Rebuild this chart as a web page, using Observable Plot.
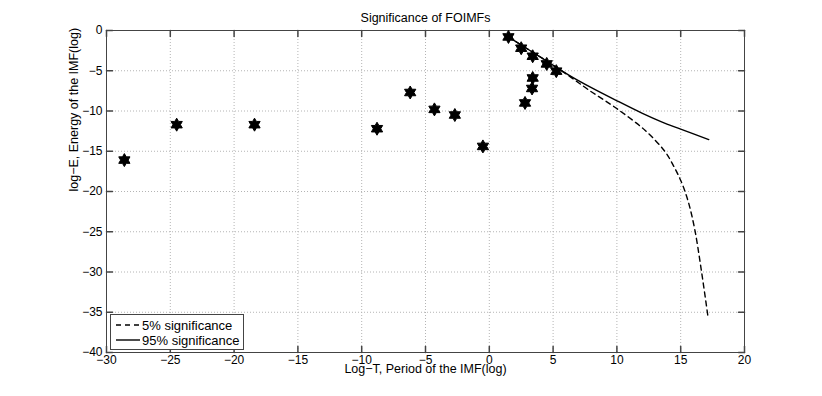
<!DOCTYPE html>
<html>
<head>
<meta charset="utf-8">
<script src="https://cdn.jsdelivr.net/npm/d3@7"></script>
<script src="https://cdn.jsdelivr.net/npm/@observablehq/plot@0.6"></script>
<style>
  html, body { margin: 0; padding: 0; background: #fff; }
  #wrap { position: relative; width: 822px; height: 396px; font-family: "Liberation Sans", Arial, sans-serif; }
  #legend { position: absolute; left: 110px; top: 314px; width: 132px; height: 34px; border: 1px solid #444; background: #fff; font-size: 13px; color: #000; }
  #legend .row { position: absolute; left: 0; height: 16px; display: flex; align-items: center; white-space: nowrap; }
  #legend svg { margin-left: 5px; margin-right: 2px; }
</style>
</head>
<body>
<div id="wrap"></div>
<script>
// ---- data ----
const title = "Significance of FOIMFs";
const xLabel = "Log\u2212T, Period of the IMF(log)";
const yLabel = "log\u2212E, Energy of the IMF(log)";
const xDomain = [-30, 20];
const yDomain = [-40, 0];
const xTicks = [-30, -25, -20, -15, -10, -5, 0, 5, 10, 15, 20];
const yTicks = [-40, -35, -30, -25, -20, -15, -10, -5, 0];

const starX = [-28.6, -24.5, -18.4, -8.8, -6.2, -4.3, -2.7, -0.5, 1.5, 2.5, 3.4, 4.5, 5.25, 3.4, 3.35, 2.8];
const starY = [-16.1, -11.7, -11.7, -12.2, -7.7, -9.8, -10.5, -14.4, -0.8, -2.2, -3.2, -4.15, -5.05, -5.9, -7.2, -9.0];

const sig95X = [1.5, 3, 4.5, 6.3, 8, 9.9, 12, 13.5, 15, 17.2];
const sig95Y = [-0.8, -2.3, -3.8, -5.6, -7.1, -8.65, -10.3, -11.35, -12.25, -13.55];

const sig5X = [1.5, 3, 4.5, 6.3, 7.8, 9.9, 12.2, 13.75, 14.5, 15.1, 15.6, 16.1, 16.6, 17.15];
const sig5Y = [-0.8, -2.3, -3.8, -5.7, -7.4, -9.6, -12.4, -15.0, -17.0, -19.0, -21.3, -24.7, -29.6, -35.7];

const legendLabels = ["5% significance", "95% significance"];

// ---- build ----
const stars = starX.map((x, i) => ({x, y: starY[i]}));
const s95 = sig95X.map((x, i) => ({x, y: sig95Y[i]}));
const s5 = sig5X.map((x, i) => ({x, y: sig5Y[i]}));

const hexagram = {
  draw(ctx, size) {
    const R = Math.sqrt(size / Math.PI);
    const r = R / Math.sqrt(3);
    for (let k = 0; k < 12; k++) {
      const a = -Math.PI / 2 + k * Math.PI / 6;
      const rad = k % 2 ? r : R;
      const px = rad * Math.cos(a), py = rad * Math.sin(a);
      if (k === 0) ctx.moveTo(px, py); else ctx.lineTo(px, py);
    }
    ctx.closePath();
  }
};
const tickShape = { draw(ctx, l) { ctx.moveTo(0, 0); ctx.lineTo(0, -l); } };
const axisColor = "#444";
const fmt = d => String(d).replace("-", "\u2212");

const chart = Plot.plot({
  width: 822,
  height: 396,
  marginLeft: 106,
  marginRight: 78,
  marginTop: 30,
  marginBottom: 44,
  style: { fontFamily: "Liberation Sans, Arial, sans-serif", fontSize: "12px", color: "#000", background: "#fff" },
  x: { domain: xDomain, ticks: xTicks, label: null },
  y: { domain: yDomain, ticks: yTicks, label: null },
  marks: [
    Plot.gridX(xTicks.filter(t => t !== xDomain[0] && t !== xDomain[1]), { stroke: "#b4b4b4", strokeOpacity: 1, strokeDasharray: "1,2" }),
    Plot.gridY(yTicks.filter(t => t !== yDomain[0] && t !== yDomain[1]), { stroke: "#b4b4b4", strokeOpacity: 1, strokeDasharray: "1,2" }),
    Plot.frame({ stroke: axisColor, strokeWidth: 1 }),
    // inward tick marks on all four sides
    Plot.vector(xTicks, { x: d => d, y: yDomain[0], length: 6, shape: tickShape, anchor: "start", rotate: 0, stroke: axisColor }),
    Plot.vector(xTicks, { x: d => d, y: yDomain[1], length: 6, shape: tickShape, anchor: "start", rotate: 180, stroke: axisColor }),
    Plot.vector(yTicks, { y: d => d, x: xDomain[0], length: 6, shape: tickShape, anchor: "start", rotate: 90, stroke: axisColor }),
    Plot.vector(yTicks, { y: d => d, x: xDomain[1], length: 6, shape: tickShape, anchor: "start", rotate: -90, stroke: axisColor }),
    Plot.axisX(xTicks, { tickSize: 0, tickPadding: 3, tickFormat: fmt, fontSize: 12, fill: "#000", label: null }),
    Plot.axisY(yTicks, { tickSize: 0, tickPadding: 4, tickFormat: fmt, fontSize: 12, fill: "#000", label: null }),
    Plot.line(s5, { x: "x", y: "y", stroke: "#000", strokeWidth: 1.4, strokeDasharray: "5,4", curve: "catmull-rom" }),
    Plot.line(s95, { x: "x", y: "y", stroke: "#000", strokeWidth: 1.4, curve: "catmull-rom" }),
    Plot.dot(stars, { x: "x", y: "y", r: 6.5, symbol: hexagram, fill: "#000", stroke: "#000", strokeWidth: 1 }),
    Plot.text([title], { frameAnchor: "top", lineAnchor: "middle", dy: -13, fontSize: 12.5, fill: "#000" }),
    Plot.text([xLabel], { frameAnchor: "bottom", lineAnchor: "middle", dy: 16, fontSize: 12.5, fill: "#000" }),
    Plot.text([yLabel], { frameAnchor: "left", lineAnchor: "middle", rotate: -90, dx: -33, fontSize: 12.5, fill: "#000" })
  ]
});

const wrap = document.getElementById("wrap");
wrap.appendChild(chart);

// legend overlay
const legend = document.createElement("div");
legend.id = "legend";
const dashes = ["5,4", null];
legendLabels.forEach((lab, i) => {
  const row = document.createElement("div");
  row.className = "row";
  row.style.top = (2 + i * 15) + "px";
  const dash = dashes[i] ? `stroke-dasharray="${dashes[i]}"` : "";
  row.innerHTML = `<svg width="24" height="10"><line x1="0" y1="5" x2="24" y2="5" stroke="#000" stroke-width="1.4" ${dash}></line></svg><span>${lab}</span>`;
  legend.appendChild(row);
});
wrap.appendChild(legend);
</script>
</body>
</html>
